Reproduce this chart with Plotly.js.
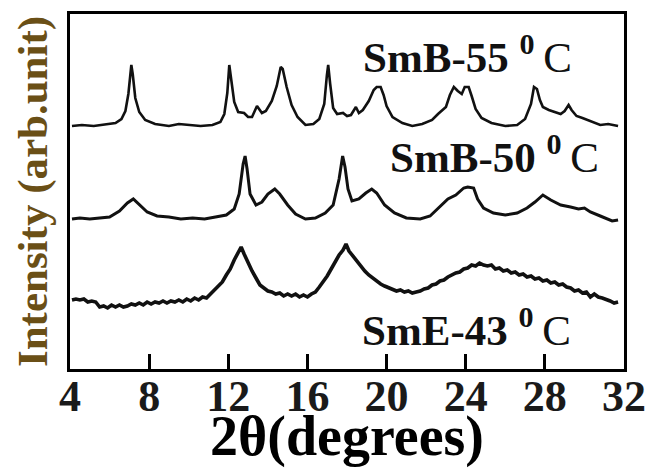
<!DOCTYPE html>
<html>
<head>
<meta charset="utf-8">
<script src="https://cdn.plot.ly/plotly-3.0.1.min.js"></script>
<style>html,body{margin:0;padding:0;background:#fff;}#chart{width:646px;height:468px;}</style>
</head>
<body>
<div id="chart"></div>
<script>
// ---- data (2θ in degrees, intensity in arbitrary units above each pattern's own baseline) ----
const seriesNames = ["SmB-55 \u00B0C", "SmB-50 \u00B0C", "SmE-43 \u00B0C"];
const xTicks = [4, 8, 12, 16, 20, 24, 28, 32];

const smb55X = [4.1,4.6,5.2,5.8,6.3,6.6,6.8,6.95,7.05,7.1,7.17,7.3,7.5,7.8,8.3,9.0,9.5,10.0,10.6,11.2,11.6,11.8,11.95,12.05,12.15,12.3,12.5,12.8,13.0,13.2,13.45,13.7,13.9,14.2,14.45,14.65,14.75,14.95,15.2,15.5,15.9,16.3,16.6,16.85,16.98,17.05,17.15,17.3,17.5,17.8,18.0,18.2,18.45,18.6,18.8,19.1,19.35,19.5,19.7,19.85,20.0,20.3,20.8,21.3,21.8,22.3,22.6,22.8,23.0,23.2,23.4,23.6,23.8,23.95,24.15,24.3,24.5,24.8,25.3,26.0,26.6,27.0,27.3,27.45,27.6,27.75,27.9,28.2,28.5,28.8,29.0,29.2,29.35,29.6,29.9,30.3,30.8,31.2,31.7];
const smb55Y = [0,1,0,2,3,7,15,32,56,61,52,28,14,6,2,0,2,1,0,1,4,12,33,61,47,24,14,13,9,9,20,13,15,25,40,59,57,39,21,9,1,2,7,22,50,61,42,18,12,13,10,11,19,13,16,25,36,39,39,31,20,9,3,0,2,6,12,16,19,31,39,35,32,39,39,30,17,8,3,0,1,7,22,39,37,26,19,16,14,12,15,21,16,10,8,5,1,2,0];

const smb50X = [4.1,4.5,5.0,5.5,6.0,6.5,6.9,7.2,7.5,7.9,8.4,9.0,9.6,10.2,10.8,11.4,11.9,12.3,12.55,12.75,12.85,12.95,13.1,13.4,13.7,14.0,14.35,14.6,15.0,15.4,15.9,16.4,16.9,17.3,17.6,17.78,17.9,18.05,18.25,18.6,18.95,19.25,19.5,19.9,20.4,21.0,21.7,22.2,22.7,23.1,23.5,23.9,24.1,24.4,24.6,24.9,25.4,26.0,26.6,27.1,27.5,27.9,28.3,28.8,29.3,29.7,30.0,30.3,30.8,31.4,31.7];
const smb50Y = [0,1,0,1,2,8,16,20,14,7,3,2,0,1,0,2,4,10,25,55,63,50,25,14,17,25,30,25,14,5,0,1,6,14,40,63,52,30,18,20,26,30,26,14,6,1,0,3,12,20,24,31,32,31,20,11,6,4,6,11,17,24,19,14,12,10,11,7,3,-2,-1];

const sme43X = [4.1,4.3,4.5,4.7,4.9,5.1,5.3,5.5,5.7,5.9,6.1,6.3,6.5,6.7,6.9,7.1,7.3,7.5,7.7,7.9,8.1,8.3,8.5,8.7,8.9,9.1,9.3,9.5,9.7,9.9,10.1,10.3,10.5,10.7,10.9,11.1,11.3,11.5,11.7,11.9,12.1,12.3,12.5,12.65,12.8,13.0,13.2,13.4,13.6,13.8,14.0,14.2,14.4,14.6,14.8,15.0,15.2,15.4,15.6,15.8,16.0,16.2,16.4,16.6,16.8,17.0,17.2,17.4,17.6,17.8,17.95,18.1,18.3,18.5,18.7,18.9,19.1,19.3,19.5,19.7,19.9,20.1,20.3,20.5,20.7,20.9,21.1,21.3,21.5,21.7,21.9,22.1,22.3,22.5,22.7,22.9,23.1,23.3,23.5,23.7,23.9,24.1,24.3,24.5,24.7,24.9,25.1,25.3,25.5,25.7,25.9,26.1,26.3,26.5,26.7,26.9,27.1,27.3,27.5,27.7,27.9,28.1,28.3,28.5,28.7,28.9,29.1,29.3,29.5,29.7,29.9,30.1,30.3,30.5,30.7,30.9,31.1,31.3,31.5,31.7];
const sme43Y = [0,1,0,1,-2,-1,-2,-7,-6,-8,-5,-7,-5,-7,-6,-4,-5,-3,-5,-2,-4,-2,-3,-1,-3,-1,-2,0,-2,1,-1,2,0,3,2,6,9,13,18,25,31,40,47,53,46,37,29,22,15,12,9,8,6,7,4,6,4,6,3,5,3,6,8,13,18,24,31,38,45,50,56,49,44,38,33,29,25,22,18,16,14,12,11,9,10,8,9,7,8,9,11,12,15,16,19,20,23,25,27,28,31,32,35,34,37,35,34,35,31,32,29,30,27,28,25,26,23,24,21,22,19,20,17,18,15,16,13,12,9,10,7,8,3,6,3,2,0,-1,-3,-2];

// vertical stacking offsets of the three patterns
const offsets = [243, 150, 69];

// ---- drawing ----
const xs = [smb55X, smb50X, sme43X];
const ys = [smb55Y, smb50Y, sme43Y];
const widths = [2.6, 3.0, 3.6];
const traces = xs.map((x, i) => ({
  x: x,
  y: ys[i].map(v => v + offsets[i]),
  type: 'scatter',
  mode: 'lines',
  name: seriesNames[i],
  line: {color: '#111', width: widths[i], shape: 'linear'},
  hoverinfo: 'x+name'
}));

const serif = 'Liberation Serif, Times New Roman, serif';
const labelFont = {family: serif, size: 43, color: '#111', weight: 'bold'};
function lbl(name) {
  const parts = name.split(' ');
  return parts[0] + ' <sup>0</sup>\u2009<span style="font-weight:normal">C</span>';
}

const layout = {
  width: 646, height: 468,
  margin: {l: 70, r: 22, t: 14, b: 99, autoexpand: false},
  paper_bgcolor: '#fff', plot_bgcolor: '#fff',
  showlegend: false,
  xaxis: {
    range: [4, 32], tickvals: xTicks, ticktext: xTicks.map(String),
    ticks: 'inside', ticklen: 15, tickwidth: 3, tickcolor: '#000',
    showline: true, linewidth: 3, linecolor: '#000', mirror: true,
    showgrid: false, zeroline: false, automargin: true,
    tickfont: {family: serif, size: 44, color: '#1a1a1a', weight: 'bold'},
    ticklabelstandoff: -14,
    title: {text: '2\u03B8(degrees)', font: {family: serif, size: 56, color: '#000', weight: 'bold'}, standoff: 8}
  },
  yaxis: {
    range: [0, 355],
    showticklabels: false, ticks: '',
    showline: true, linewidth: 3, linecolor: '#000', mirror: true,
    showgrid: false, zeroline: false,
    title: {text: 'Intensity (arb.unit)', font: {family: serif, size: 43, color: '#6a4f16', weight: 'bold'}, standoff: 6}
  },
  annotations: [
    {xref: 'paper', yref: 'paper', x: 0.525, y: 0.887, xanchor: 'left', yanchor: 'middle', text: lbl(seriesNames[0]), showarrow: false, font: labelFont},
    {xref: 'paper', yref: 'paper', x: 0.574, y: 0.605, xanchor: 'left', yanchor: 'middle', text: lbl(seriesNames[1]), showarrow: false, font: labelFont},
    {xref: 'paper', yref: 'paper', x: 0.523, y: 0.118, xanchor: 'left', yanchor: 'middle', text: lbl(seriesNames[2]), showarrow: false, font: labelFont}
  ]
};

Plotly.newPlot('chart', traces, layout, {displayModeBar: false, staticPlot: true});
</script>
</body>
</html>
